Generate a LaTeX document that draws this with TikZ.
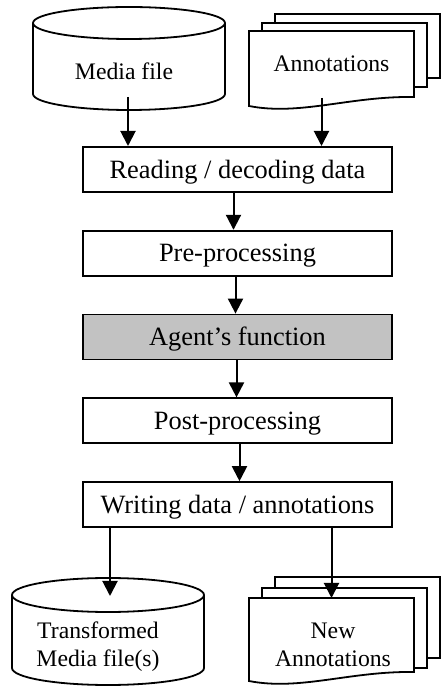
\documentclass[tikz,border=0pt]{standalone}
\usepackage{fontspec}
\setmainfont{Liberation Serif}
\usepackage{xcolor}
\usepackage{tikz}
\usetikzlibrary{arrows.meta, positioning}
\definecolor{agentgray}{gray}{0.76}

\begin{document}
\begin{tikzpicture}[
  x=1pt, y=1pt,
  node distance=37pt,
  box/.style={draw, line width=1.8pt, fill=white, minimum width=309pt, minimum height=45pt, inner sep=0pt, font=\fontsize{26.4pt}{30pt}\selectfont, text height=17.5pt, text depth=0pt},
  agent/.style={box, fill=agentgray},
  store/.style={minimum width=192pt, inner sep=0pt, outer sep=0pt},
  doc/.style={minimum width=165pt, inner sep=0pt, outer sep=0pt},
  shp/.style={draw, line width=1.8pt, fill=white, line join=miter},
  lbl/.style={font=\fontsize{23.7pt}{28pt}\selectfont, align=center, inner sep=0pt},
  arr/.style={-{Triangle[length=15pt, width=15pt]}, line width=2pt}
]

\useasboundingbox (0,0) rectangle (441,696);

\node[store, minimum height=103pt] (media) at (129,637.5) {};
\node[doc, minimum height=75pt] (ann) at (331.5,627.5) {};

\node[box] (read) at (237.5,526.6) {Reading / decoding data};
\node[box, below=of read] (pre) {Pre-processing};
\node[agent, below=of pre] (agentfn) {Agent’s function};
\node[box, below=of agentfn] (post) {Post-processing};
\node[box, below=of post] (write) {Writing data / annotations};

\node[store, minimum height=107pt] (out) at (108,64.5) {};
\node[doc, minimum height=83pt] (newann) at (331.5,56.5) {};

\draw[shp] ([yshift=-16pt]media.north west) -- ([yshift=16pt]media.south west)
  arc[start angle=180, end angle=360, x radius=96, y radius=16]
  -- ([yshift=-16pt]media.north east)
  arc[start angle=0, end angle=180, x radius=96, y radius=16] -- cycle;
\draw[shp, fill=none] ([yshift=-16pt]media.north west) arc[start angle=180, end angle=360, x radius=96, y radius=16];

\draw[shp] ([shift={(26,17)}]ann.north west) rectangle ([shift={(26,28)}]ann.south east);
\draw[shp] ([shift={(13,8)}]ann.north west) rectangle ([shift={(13,19)}]ann.south east);
\draw[shp] (ann.north west) -- (ann.north east) -- ([yshift=9pt]ann.south east)
  .. controls +(-64,1) and +(51,-10) .. (ann.south west) -- cycle;

\draw[shp] ([yshift=-17pt]out.north west) -- ([yshift=17pt]out.south west)
  arc[start angle=180, end angle=360, x radius=96, y radius=17]
  -- ([yshift=-17pt]out.north east)
  arc[start angle=0, end angle=180, x radius=96, y radius=17] -- cycle;
\draw[shp, fill=none] ([yshift=-17pt]out.north west) arc[start angle=180, end angle=360, x radius=96, y radius=17];

\draw[shp] ([shift={(26,21)}]newann.north west) rectangle ([shift={(26,23)}]newann.south east);
\draw[shp] ([shift={(13,10)}]newann.north west) rectangle ([shift={(13,13)}]newann.south east);
\draw[shp] (newann.north west) -- (newann.north east) -- ([yshift=9pt]newann.south east)
  .. controls +(-64,1) and +(51,-10) .. (newann.south west) -- cycle;

\node[lbl, text height=16pt, text depth=0pt] (medialbl) at ([xshift=-5pt,yshift=-13.5pt]media.center) {Media file};
\node[lbl, text height=16pt, text depth=0pt] (annlbl) at ([yshift=4.5pt]ann.center) {Annotations};
\node[lbl] (outlbl) at ([xshift=-10pt,yshift=-15pt]out.center) {Transformed\\Media file(s)};
\node[lbl] (newannlbl) at ([xshift=1.5pt,yshift=-5pt]newann.center) {New\\Annotations};

\coordinate (mediaout) at ([xshift=-1pt,yshift=13pt]media.south);
\coordinate (annout) at ([xshift=-10pt,yshift=8pt]ann.south);
\coordinate (outin) at ([xshift=2pt,yshift=-18pt]out.north);

\draw[arr] (mediaout) -- (mediaout |- read.north);
\draw[arr] (annout) -- (annout |- read.north);
\draw[arr] ([xshift=-4pt]read.south) -- ([xshift=-4pt]pre.north);
\draw[arr] ([xshift=-2pt]pre.south) -- ([xshift=-2pt]agentfn.north);
\draw[arr] ([xshift=-1pt]agentfn.south) -- ([xshift=-1pt]post.north);
\draw[arr] ([xshift=2pt]post.south) -- ([xshift=2pt]write.north);
\draw[arr] (write.south -| outin) -- (outin);
\draw[arr] (write.south -| newann.north) -- (newann.north);

\end{tikzpicture}
\end{document}
